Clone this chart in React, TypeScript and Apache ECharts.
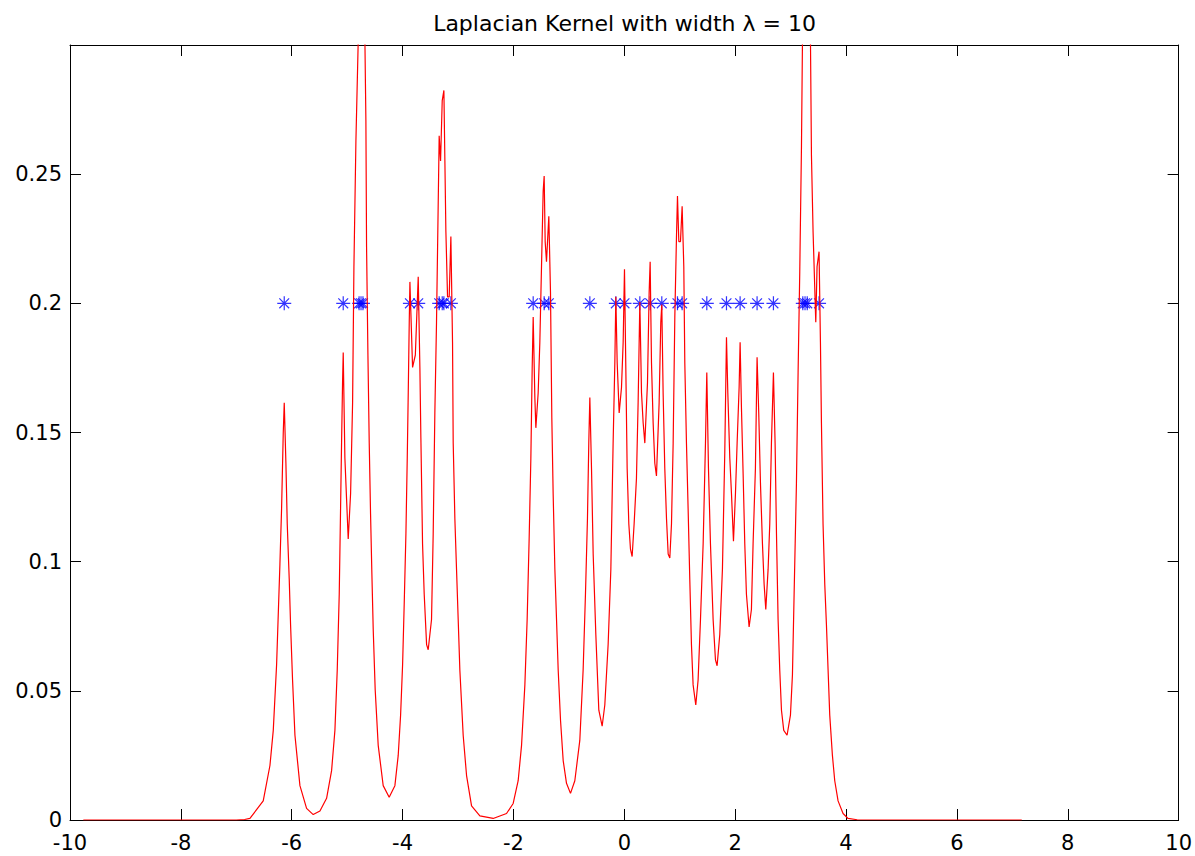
import React, { useEffect, useRef } from "react";
import * as echarts from "echarts";

// Red curve: points (x, density)
const curveX = [
  -9.76, -7.0, -6.85, -6.754, -6.514, -6.393, -6.333, -6.273, -6.213, -6.183, -6.153, -6.135, -6.105, -6.081, -6.045, -6.021, -5.985, -5.942, -5.852, -5.732,
  -5.612, -5.491, -5.371, -5.281, -5.221, -5.179, -5.143, -5.119, -5.101, -5.083, -5.071, -5.041, -5.011, -4.981, -4.938, -4.902, -4.878, -4.842, -4.8, -4.75,
  -4.68, -4.662, -4.65, -4.626, -4.602, -4.578, -4.554, -4.53, -4.494, -4.44, -4.35, -4.242, -4.139, -4.079, -4.036, -4.0, -3.971, -3.94, -3.916, -3.898,
  -3.88, -3.868, -3.82, -3.77, -3.718, -3.688, -3.67, -3.64, -3.61, -3.567, -3.538, -3.478, -3.448, -3.418, -3.388, -3.34, -3.315, -3.285, -3.255, -3.237,
  -3.219, -3.189, -3.159, -3.129, -3.099, -3.087, -3.057, -3.027, -2.997, -2.967, -2.907, -2.846, -2.756, -2.606, -2.366, -2.125, -2.005, -1.915, -1.854, -1.794,
  -1.753, -1.717, -1.686, -1.662, -1.644, -1.614, -1.596, -1.554, -1.524, -1.494, -1.464, -1.446, -1.428, -1.404, -1.362, -1.332, -1.308, -1.284, -1.253, -1.223,
  -1.193, -1.151, -1.103, -1.043, -0.971, -0.893, -0.803, -0.743, -0.701, -0.665, -0.641, -0.622, -0.592, -0.562, -0.514, -0.46, -0.4, -0.352, -0.292, -0.243,
  -0.202, -0.171, -0.153, -0.129, -0.093, -0.051, -0.021, 0.003, 0.027, 0.051, 0.081, 0.111, 0.141, 0.177, 0.219, 0.249, 0.28, 0.31, 0.34, 0.37,
  0.418, 0.448, 0.466, 0.49, 0.52, 0.55, 0.58, 0.628, 0.658, 0.676, 0.7, 0.73, 0.761, 0.791, 0.821, 0.851, 0.881, 0.911, 0.941, 0.959,
  0.983, 1.013, 1.043, 1.073, 1.091, 1.121, 1.151, 1.181, 1.211, 1.241, 1.289, 1.331, 1.374, 1.422, 1.464, 1.488, 1.518, 1.554, 1.602, 1.644,
  1.674, 1.722, 1.77, 1.812, 1.843, 1.867, 1.903, 1.933, 1.969, 2.005, 2.035, 2.071, 2.089, 2.113, 2.143, 2.173, 2.203, 2.251, 2.293, 2.323,
  2.365, 2.395, 2.425, 2.456, 2.492, 2.522, 2.552, 2.594, 2.624, 2.654, 2.69, 2.72, 2.745, 2.774, 2.804, 2.835, 2.876, 2.936, 2.997, 3.033,
  3.063, 3.105, 3.135, 3.165, 3.196, 3.214, 3.28, 3.358, 3.376, 3.405, 3.454, 3.477, 3.513, 3.538, 3.556, 3.585, 3.616, 3.646, 3.676, 3.706,
  3.754, 3.796, 3.856, 3.946, 4.036, 4.2, 7.17,
];
const curveY = [
  0, 0, 0.0002, 0.0006, 0.0074, 0.0211, 0.0347, 0.0601, 0.0991, 0.1205, 0.1498, 0.1615, 0.1381, 0.1147, 0.0932, 0.0757, 0.0542, 0.0328, 0.0133, 0.0045,
  0.0021, 0.0035, 0.0084, 0.0191, 0.0347, 0.0581, 0.0874, 0.1205, 0.1459, 0.1693, 0.181, 0.1401, 0.1244, 0.1088, 0.1264, 0.1615, 0.2142, 0.2629, 0.302, 0.35,
  0.302, 0.2708, 0.222, 0.181, 0.146, 0.1186, 0.0952, 0.0738, 0.0503, 0.0289, 0.0133, 0.0088, 0.0133, 0.025, 0.0406, 0.0601, 0.0835, 0.1108, 0.14, 0.1654,
  0.1927, 0.2083, 0.1752, 0.18, 0.2103, 0.1752, 0.1479, 0.1069, 0.0874, 0.0679, 0.0659, 0.0776, 0.1108, 0.1576, 0.1927, 0.2649, 0.2551, 0.2785, 0.2824, 0.2551,
  0.2278, 0.2025, 0.2025, 0.2259, 0.1849, 0.1459, 0.1166, 0.0971, 0.0776, 0.0581, 0.0328, 0.0172, 0.0055, 0.0016, 0.0006, 0.0025, 0.0064, 0.0152, 0.0289, 0.0523,
  0.0776, 0.1088, 0.14, 0.1752, 0.1947, 0.1635, 0.1518, 0.1654, 0.1849, 0.2142, 0.2434, 0.2493, 0.2239, 0.2161, 0.2337, 0.2044, 0.1557, 0.1264, 0.0971, 0.0776,
  0.0581, 0.0386, 0.023, 0.0142, 0.0103, 0.0152, 0.0308, 0.0581, 0.0874, 0.1166, 0.1459, 0.1635, 0.1362, 0.103, 0.0718, 0.0425, 0.0363, 0.0445, 0.0679, 0.0971,
  0.1459, 0.1771, 0.2025, 0.1771, 0.1576, 0.1674, 0.1849, 0.2132, 0.1752, 0.1362, 0.1147, 0.1049, 0.102, 0.1147, 0.1323, 0.1615, 0.2005, 0.1654, 0.1537, 0.1459,
  0.1693, 0.2044, 0.2161, 0.1771, 0.1537, 0.1381, 0.1332, 0.1615, 0.1927, 0.1995, 0.1654, 0.1362, 0.1166, 0.103, 0.1014, 0.1147, 0.1459, 0.1947, 0.2259, 0.2415,
  0.2239, 0.2239, 0.2376, 0.2142, 0.1771, 0.1459, 0.1205, 0.0932, 0.0679, 0.0523, 0.0445, 0.0542, 0.0776, 0.1069, 0.1459, 0.1732, 0.1362, 0.1069, 0.0776, 0.062,
  0.0597, 0.0718, 0.0971, 0.142, 0.1869, 0.1654, 0.14, 0.1264, 0.1079, 0.1264, 0.1459, 0.1674, 0.1849, 0.1596, 0.1342, 0.1069, 0.0874, 0.0747, 0.0815, 0.1069,
  0.1362, 0.1791, 0.1576, 0.1303, 0.1069, 0.0913, 0.0815, 0.0971, 0.1147, 0.1459, 0.1732, 0.1459, 0.1108, 0.0776, 0.0581, 0.0425, 0.0347, 0.0328, 0.0406, 0.0562,
  0.0874, 0.1303, 0.1732, 0.2122, 0.261, 0.302, 0.36, 0.302, 0.2571, 0.2278, 0.1927, 0.2142, 0.22, 0.1849, 0.1537, 0.1147, 0.0913, 0.0757, 0.0581, 0.0406,
  0.025, 0.0152, 0.0074, 0.0025, 0.0006, 0.0001, 0,
];

// Blue asterisks: sample positions, all drawn at the same height
const starX = [
  -6.135, -5.071, -4.785, -4.75, -4.715, -3.868, -3.718, -3.34, -3.285, -3.255, -3.129, -1.644, -1.446, -1.362, -0.622, -0.153,
  0.003, 0.28, 0.466, 0.676, 0.959, 1.043, 1.488, 1.843, 2.089, 2.395, 2.69, 3.22, 3.26, 3.3, 3.513,
];
const starLevel = 0.2;

const titleText = "Laplacian Kernel with width \u03bb = 10";

const FONT = "DejaVu Sans";
const W = 1195;
const H = 856;
const GRID = { left: 70, top: 45, width: 1109, height: 775 };

export default function App() {
  const ref = useRef<HTMLDivElement>(null);

  useEffect(() => {
    if (!ref.current) return;
    const chart = echarts.init(ref.current, null, { renderer: "svg", width: W, height: H });

    const axisLine = { show: true, onZero: false, lineStyle: { color: "#000", width: 1 } };
    const axisTick = { show: true, inside: true, length: 11, lineStyle: { color: "#000", width: 1 } };
    const label = { fontFamily: FONT, fontSize: 21, color: "#000" };

    const curveData = curveX.map((x, i) => [x, curveY[i]]);
    const starData = starX.map((x) => [x, starLevel]);

    chart.setOption({
      animation: false,
      backgroundColor: "#fff",
      grid: { ...GRID, containLabel: false },
      graphic: [
        {
          type: "text",
          x: GRID.left + GRID.width / 2,
          y: 23,
          style: {
            text: titleText,
            fontFamily: FONT,
            fontSize: 22,
            fill: "#000",
            textAlign: "center",
            textVerticalAlign: "middle",
          },
        },
      ],
      xAxis: [
        {
          type: "value",
          position: "bottom",
          min: -10,
          max: 10,
          interval: 2,
          axisLine,
          axisTick,
          splitLine: { show: false },
          axisLabel: { ...label, margin: 12 },
        },
        {
          type: "value",
          position: "top",
          min: -10,
          max: 10,
          interval: 2,
          axisLine,
          axisTick,
          splitLine: { show: false },
          axisLabel: { show: false },
        },
      ],
      yAxis: [
        {
          type: "value",
          position: "left",
          min: 0,
          max: 0.3,
          interval: 0.05,
          axisLine,
          axisTick,
          splitLine: { show: false },
          axisLabel: {
            ...label,
            margin: 8,
            formatter: (v: number) => (v > 0.29 ? "" : String(+v.toFixed(2))),
          },
        },
        {
          type: "value",
          position: "right",
          min: 0,
          max: 0.3,
          interval: 0.05,
          axisLine,
          axisTick,
          splitLine: { show: false },
          axisLabel: { show: false },
        },
      ],
      series: [
        {
          type: "line",
          xAxisIndex: 0,
          yAxisIndex: 0,
          data: curveData,
          showSymbol: false,
          symbol: "none",
          clip: true,
          silent: true,
          lineStyle: { color: "#ff0000", width: 1.2 },
        },
        {
          type: "scatter",
          xAxisIndex: 0,
          yAxisIndex: 0,
          data: starData,
          symbol: "path://M0,6 L12,6 M6,0 L6,12 M1.8,1.8 L10.2,10.2 M10.2,1.8 L1.8,10.2",
          symbolSize: [14, 14],
          silent: true,
          itemStyle: { color: "none", borderColor: "#0000ff", borderWidth: 1.2 },
        },
      ],
    });

    return () => chart.dispose();
  }, []);

  return (
    <div
      ref={ref}
      style={{ position: "fixed", left: 0, top: 0, width: W, height: H, background: "#fff" }}
    />
  );
}
